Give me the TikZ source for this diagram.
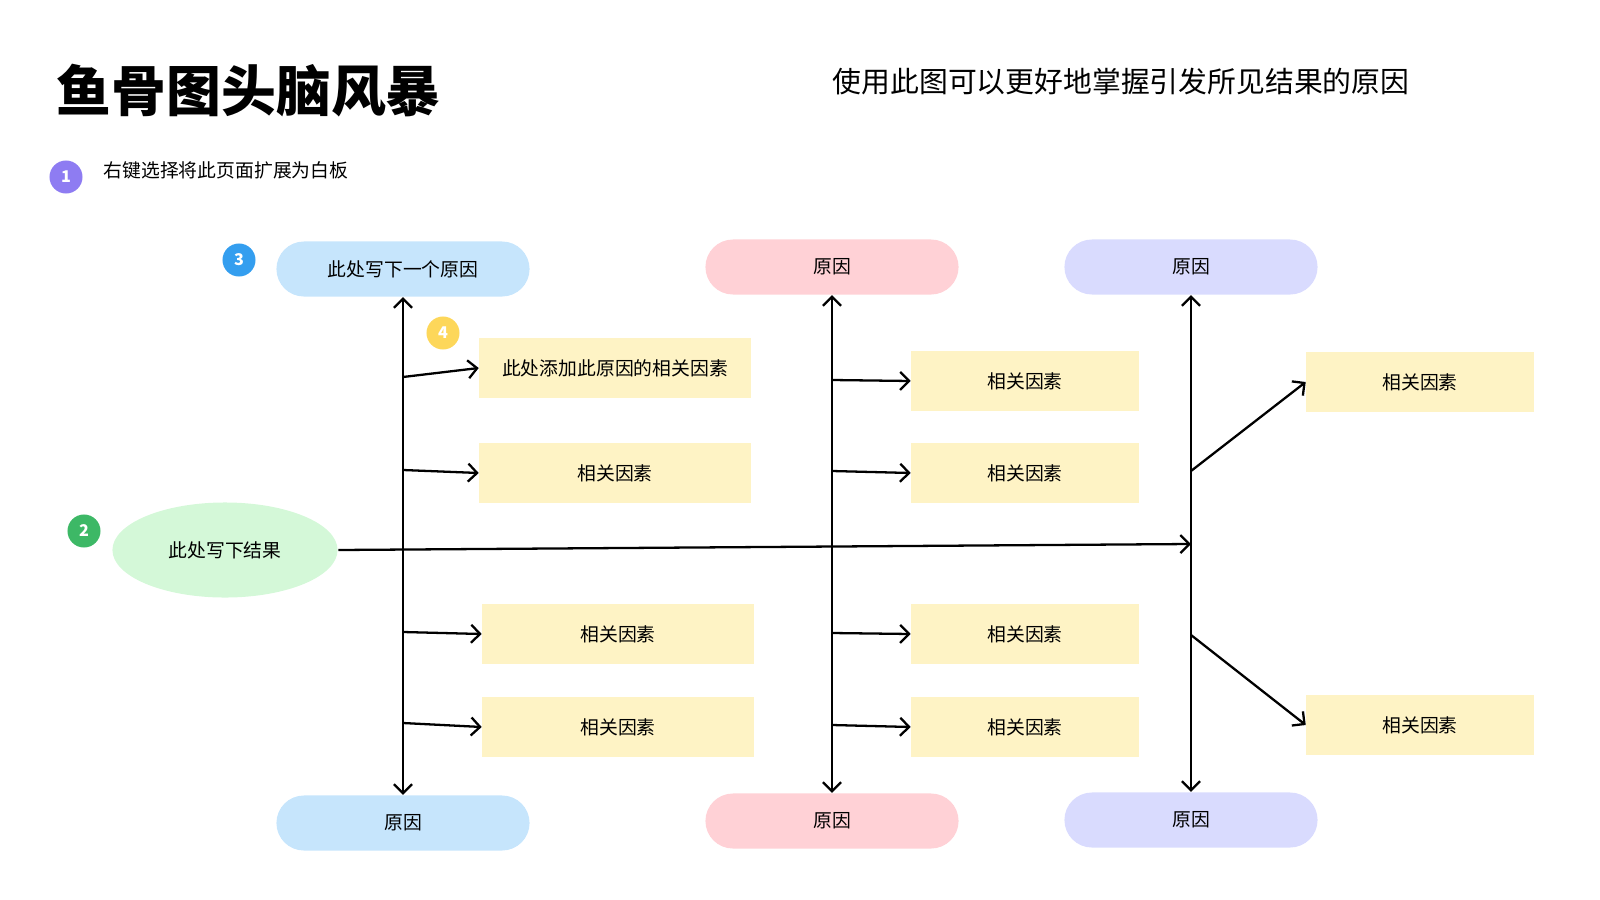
\documentclass[tikz,border=0pt]{standalone}
\usepackage{fontspec}
\setmainfont{Noto Sans CJK SC}
\usetikzlibrary{arrows.meta,shapes.geometric}
\definecolor{pillblue}{HTML}{C6E5FC}
\definecolor{pillpink}{HTML}{FFD1D6}
\definecolor{pilllilac}{HTML}{D9DBFE}
\definecolor{headgreen}{HTML}{D4F8D8}
\definecolor{factoryellow}{HTML}{FEF3C5}
\definecolor{badgepurple}{HTML}{8E7CF2}
\definecolor{badgeblue}{HTML}{349EEF}
\definecolor{badgegreen}{HTML}{3DB866}
\definecolor{badgeyellow}{HTML}{FDD75A}

\begin{document}
\begin{tikzpicture}[
    x=0.01cm, y=-0.01cm,
    >={Straight Barb[length=0.9mm,width=1.8mm]},
    every node/.style={font=\fontsize{5.35pt}{6pt}\selectfont},
    cause/.style={rectangle, rounded corners=2.75mm, minimum width=2.53cm, minimum height=0.55cm, inner sep=0pt},
    factor/.style={rectangle, fill=factoryellow, minimum height=0.59cm, inner sep=0pt},
    badge/.style={circle, minimum size=0.33cm, inner sep=0pt, text=white, font=\fontsize{4.6pt}{5pt}\selectfont\bfseries},
    bone/.style={->, line width=0.65pt}
]
    \useasboundingbox (0,0) rectangle (1600,900);

    % === HEADER ===
    \node[anchor=west, inner sep=0pt, font=\fontsize{15.6pt}{18pt}\selectfont\bfseries] (title) at (56,91) {鱼骨图头脑风暴};
    \node[anchor=west, inner sep=0pt, font=\fontsize{8.2pt}{10pt}\selectfont] (subtitle) at (832,82) {使用此图可以更好地掌握引发所见结果的原因};

    % Step hints
    \node[badge, fill=badgepurple] (b1) at (66,177) {1};
    \node[anchor=west, inner sep=0pt] (hint1) at (103,170) {右键选择将此页面扩展为白板};
    \node[badge, fill=badgegreen] (b2) at (84,531) {2};
    \node[badge, fill=badgeblue] (b3) at (239,260) {3};
    \node[badge, fill=badgeyellow] (b4) at (443,333) {4};

    % === HEAD (result) ===
    \node[ellipse, fill=headgreen, minimum width=2.25cm, minimum height=0.95cm, inner sep=0pt] (effect) at (225,550) {此处写下结果};

    % === CAUSES ===
    \node[cause, fill=pillblue] (topA) at (403,269) {此处写下一个原因};
    \node[cause, fill=pillpink] (topB) at (832,267) {原因};
    \node[cause, fill=pilllilac] (topC) at (1191,267) {原因};
    \node[cause, fill=pillblue] (botA) at (403,823) {原因};
    \node[cause, fill=pillpink] (botB) at (832,821) {原因};
    \node[cause, fill=pilllilac] (botC) at (1191,820) {原因};

    % Spines
    \draw[<->, line width=0.65pt] (topA.south) -- (botA.north);
    \draw[<->, line width=0.65pt] (topB.south) -- (botB.north);
    \draw[<->, line width=0.65pt] (topC.south) -- (botC.north);

    % Backbone
    \coordinate (spineC) at (1191,544);
    \draw[bone] (effect.east) -- (spineC);

    % === FACTORS ===
    \node[factor, minimum width=2.71cm] (fa1) at (615,368) {此处添加此原因的相关因素};
    \node[factor, minimum width=2.71cm] (fa2) at (615,473) {相关因素};
    \node[factor, minimum width=2.71cm] (fa3) at (618,634) {相关因素};
    \node[factor, minimum width=2.71cm] (fa4) at (618,727) {相关因素};

    \node[factor, minimum width=2.27cm] (fb1) at (1025,381) {相关因素};
    \node[factor, minimum width=2.27cm] (fb2) at (1025,473) {相关因素};
    \node[factor, minimum width=2.27cm] (fb3) at (1025,634) {相关因素};
    \node[factor, minimum width=2.27cm] (fb4) at (1025,727) {相关因素};

    \node[factor, minimum width=2.27cm] (fc1) at (1420,382) {相关因素};
    \node[factor, minimum width=2.27cm] (fc2) at (1420,725) {相关因素};

    % Branch roots on spines
    \coordinate (ra1) at (403,377);
    \coordinate (ra2) at (403,470);
    \coordinate (ra3) at (403,632);
    \coordinate (ra4) at (403,723);
    \coordinate (rb1) at (832,380);
    \coordinate (rb2) at (832,471);
    \coordinate (rb3) at (832,633);
    \coordinate (rb4) at (832,725);
    \coordinate (rc1) at (1191,471);
    \coordinate (rc2) at (1191,635);

    % Branches
    \draw[bone] (ra1) -- (fa1.west);
    \draw[bone] (ra2) -- (fa2.west);
    \draw[bone] (ra3) -- (fa3.west);
    \draw[bone] (ra4) -- (fa4.west);
    \draw[bone] (rb1) -- (fb1.west);
    \draw[bone] (rb2) -- (fb2.west);
    \draw[bone] (rb3) -- (fb3.west);
    \draw[bone] (rb4) -- (fb4.west);
    \draw[bone] (rc1) -- (fc1.west);
    \draw[bone] (rc2) -- (fc2.west);
\end{tikzpicture}
\end{document}
